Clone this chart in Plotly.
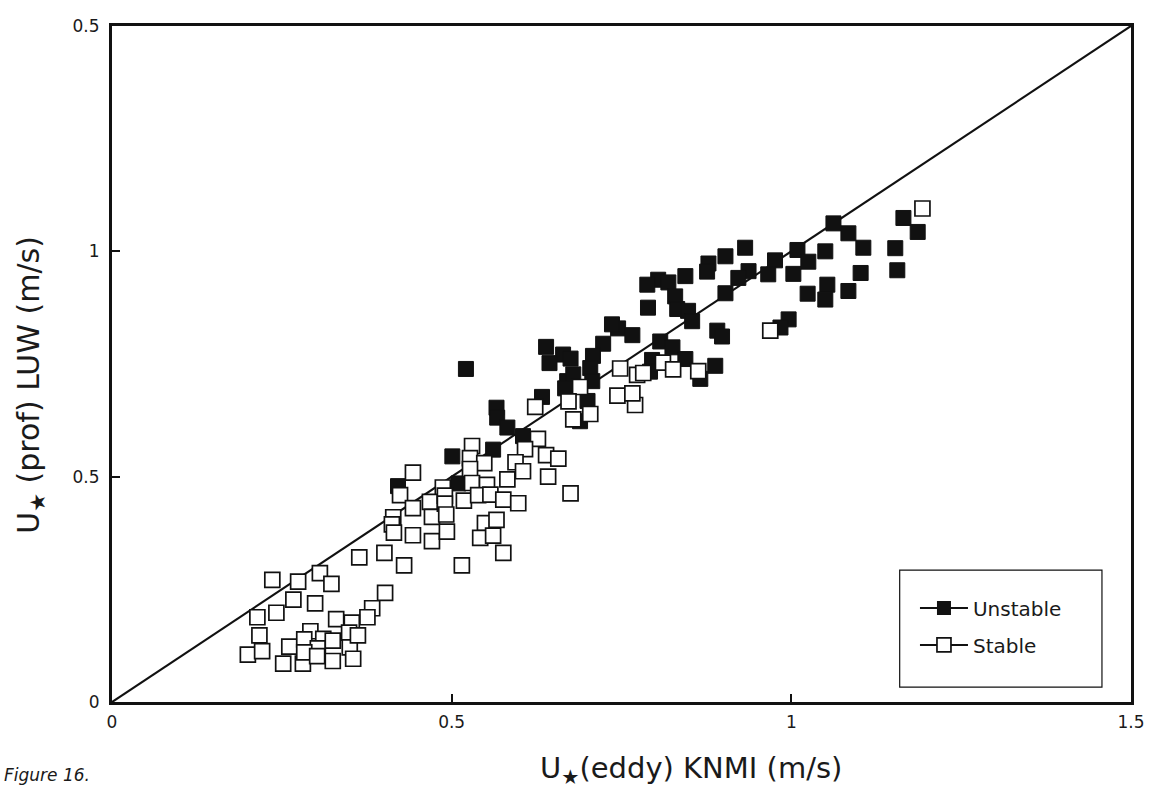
import plotly.graph_objects as go

# ---- data ----
unstable_x = [0.421, 0.521, 0.639, 0.664, 0.644, 0.745, 0.766, 0.723, 0.708, 0.704, 0.707, 0.670, 0.633,
              0.700, 0.689, 0.566, 0.567, 0.582, 0.561, 0.501, 0.510, 0.605,
              0.932, 0.903, 0.878, 0.876, 1.009, 0.976, 1.003, 0.966, 0.937, 0.922, 0.844, 0.804, 0.788,
              0.819, 0.829, 0.903, 0.789, 0.832, 0.848, 0.854, 0.891, 0.898, 0.996, 0.984, 0.736, 0.675,
              0.679, 0.667, 0.807, 0.825, 0.795, 0.844, 0.888, 0.866, 0.792,
              1.062, 1.084, 1.106, 1.050, 1.025, 1.024, 1.053, 1.050, 1.084, 1.102, 1.153, 1.156, 1.165, 1.186]
unstable_y = [0.479, 0.739, 0.788, 0.771, 0.752, 0.829, 0.814, 0.795, 0.768, 0.741, 0.712, 0.712, 0.677,
              0.668, 0.623, 0.653, 0.631, 0.609, 0.560, 0.545, 0.485, 0.590,
              1.008, 0.989, 0.973, 0.955, 1.003, 0.980, 0.950, 0.949, 0.956, 0.941, 0.945, 0.937, 0.926,
              0.931, 0.900, 0.907, 0.875, 0.872, 0.868, 0.845, 0.824, 0.811, 0.849, 0.831, 0.838, 0.762,
              0.727, 0.696, 0.800, 0.787, 0.759, 0.761, 0.746, 0.717, 0.733,
              1.062, 1.040, 1.008, 1.000, 0.977, 0.906, 0.926, 0.893, 0.912, 0.952, 1.007, 0.958, 1.074, 1.043]

stable_x = [0.443, 0.424, 0.487, 0.468, 0.443, 0.414, 0.412, 0.471, 0.443, 0.471, 0.415, 0.364, 0.401,
            0.430, 0.236, 0.274, 0.306, 0.323, 0.267, 0.299, 0.242, 0.214, 0.402, 0.383, 0.376, 0.330,
            0.353, 0.217, 0.200, 0.221, 0.252, 0.261, 0.281, 0.292, 0.283, 0.311, 0.303, 0.283, 0.325,
            0.325, 0.349, 0.350, 0.355, 0.362, 0.302,
            0.748, 0.773, 0.689, 0.672, 0.623, 0.704, 0.679, 0.744, 0.770, 0.766, 0.782, 0.811, 0.826,
            0.863, 0.969, 0.627, 0.608, 0.530, 0.527, 0.548, 0.527, 0.594, 0.639, 0.657, 0.605, 0.642,
            0.582, 0.530, 0.552, 0.490, 0.490, 0.518, 0.539, 0.557, 0.576, 0.598, 0.492, 0.493, 0.549,
            0.566, 0.542, 0.561, 0.675, 0.576, 0.515, 1.193]
stable_y = [0.509, 0.459, 0.476, 0.444, 0.430, 0.410, 0.394, 0.411, 0.370, 0.357, 0.376, 0.321, 0.331,
            0.303, 0.271, 0.267, 0.286, 0.262, 0.227, 0.219, 0.198, 0.188, 0.242, 0.208, 0.188, 0.184,
            0.176, 0.148, 0.105, 0.113, 0.085, 0.123, 0.085, 0.157, 0.139, 0.140, 0.119, 0.110, 0.136,
            0.091, 0.154, 0.121, 0.096, 0.148, 0.102,
            0.740, 0.726, 0.699, 0.667, 0.655, 0.639, 0.627, 0.680, 0.659, 0.685, 0.730, 0.753, 0.738,
            0.734, 0.824, 0.584, 0.561, 0.568, 0.541, 0.530, 0.517, 0.532, 0.548, 0.540, 0.512, 0.500,
            0.494, 0.486, 0.482, 0.458, 0.440, 0.447, 0.459, 0.460, 0.449, 0.441, 0.416, 0.378, 0.397,
            0.404, 0.364, 0.369, 0.463, 0.331, 0.303, 1.095]

one_to_one = [0, 1.5]
x_tickvals = [0, 0.5, 1, 1.5]
x_ticktext = ["0", "0.5", "1", "1.5"]
y_tickvals = [0, 0.5, 1, 1.5]
y_ticktext = ["0", "0.5", "1", "0.5"]

FONT = "DejaVu Sans, Liberation Sans, sans-serif"
INK = "#111111"
TXT = "#1a1a1a"

fig = go.Figure()

fig.add_trace(go.Scatter(x=one_to_one, y=one_to_one, mode="lines",
                         line=dict(color=INK, width=2.2), showlegend=False, hoverinfo="skip"))

fig.add_trace(go.Scatter(x=unstable_x, y=unstable_y, mode="markers", showlegend=False,
                         marker=dict(symbol="square", size=15, color=INK,
                                     line=dict(color=INK, width=1))))
fig.add_trace(go.Scatter(x=stable_x, y=stable_y, mode="markers", showlegend=False,
                         marker=dict(symbol="square", size=15, color="white",
                                     line=dict(color=INK, width=1.7))))

# legend entries (line through marker as in the original key)
fig.add_trace(go.Scatter(x=[None], y=[None], mode="lines+markers", name="Unstable",
                         legendgroup="u",
                         line=dict(color=INK, width=2),
                         marker=dict(symbol="square", size=14, color=INK)))
fig.add_trace(go.Scatter(x=[None], y=[None], mode="lines+markers", name="Stable",
                         legendgroup="s",
                         line=dict(color=INK, width=2),
                         marker=dict(symbol="square", size=14, color="white",
                                     line=dict(color=INK, width=1.7))))

axis_common = dict(showgrid=False, zeroline=False, showline=True, linecolor=INK, linewidth=3,
                   mirror=True, ticks="inside", ticklen=8, tickwidth=2, tickcolor=INK,
                   range=[0, 1.5], tickfont=dict(family=FONT, size=17, color=TXT))

fig.update_xaxes(**axis_common, tickvals=x_tickvals, ticktext=x_ticktext, ticklabelstandoff=3)
fig.update_yaxes(**axis_common, tickvals=y_tickvals, ticktext=y_ticktext, ticklabelstandoff=6)

fig.update_layout(
    width=1159, height=796,
    margin=dict(l=112, r=28, t=26, b=94),
    paper_bgcolor="white", plot_bgcolor="white",
    showlegend=True,
    legend=dict(x=0.788, y=0.168, xanchor="left", yanchor="top",
                bgcolor="rgba(0,0,0,0)", borderwidth=0, tracegroupgap=8,
                font=dict(family=FONT, size=20, color=TXT), itemwidth=48),
    shapes=[dict(type="rect", xref="paper", yref="paper",
                 x0=0.773, x1=0.9715, y0=0.022, y1=0.195,
                 line=dict(color=INK, width=1.2), fillcolor="rgba(0,0,0,0)")],
    annotations=[
        dict(text="U<sub>★</sub> (prof) LUW (m/s)", xref="paper", yref="paper",
             x=-0.080, y=0.470, textangle=-90, showarrow=False,
             font=dict(family=FONT, size=30, color=TXT), xanchor="center", yanchor="middle"),
        dict(text="U<sub>★</sub>(eddy) KNMI (m/s)", xref="paper", yref="paper",
             x=0.568, y=-0.100, showarrow=False,
             font=dict(family=FONT, size=29, color=TXT), xanchor="center", yanchor="middle"),
        dict(text="<i>Figure 16.</i>", xref="paper", yref="paper",
             x=-0.108, y=-0.108, showarrow=False, xanchor="left", yanchor="middle",
             font=dict(family=FONT, size=17, color=TXT)),
    ],
)

fig.write_html("out.html")
